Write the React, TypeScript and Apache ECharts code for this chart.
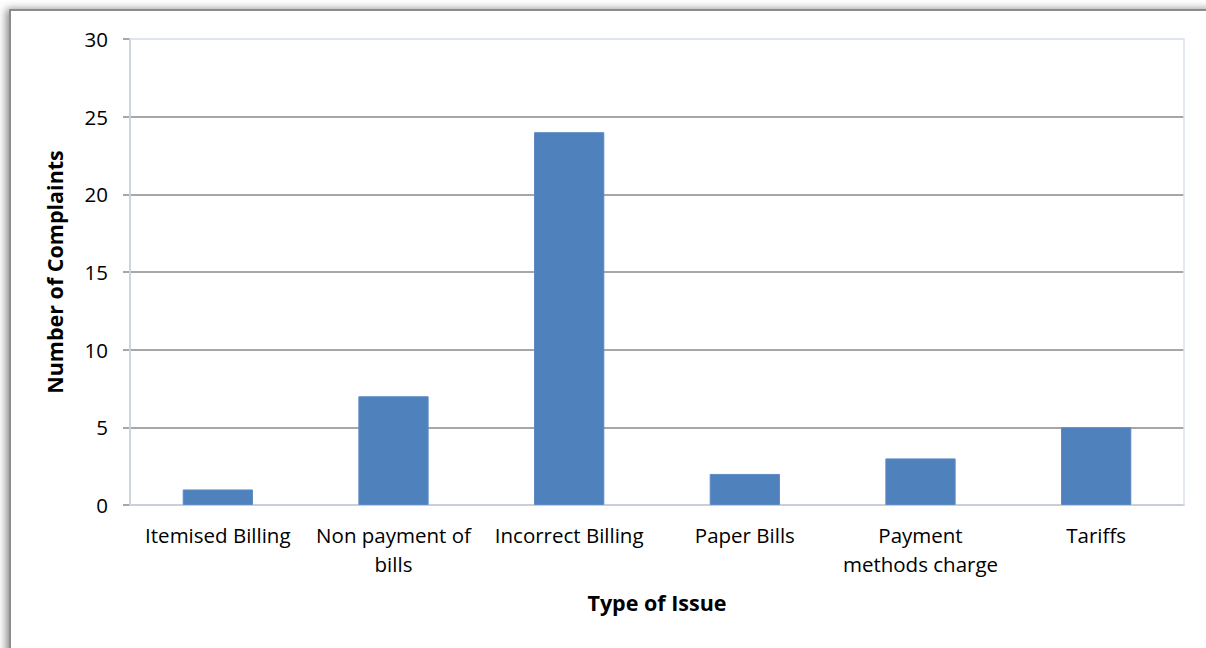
import React, { useEffect, useRef } from "react";
import * as echarts from "echarts";

const categories = [
  "Itemised Billing",
  "Non payment of\nbills",
  "Incorrect Billing",
  "Paper Bills",
  "Payment\nmethods charge",
  "Tariffs",
];
const complaints = [1, 7, 24, 2, 3, 5];
const yTicks = [0, 5, 10, 15, 20, 25, 30];

const FONT = "'Open Sans', sans-serif";

export default function App() {
  const ref = useRef<HTMLDivElement>(null);
  useEffect(() => {
    if (!ref.current) return;
    const chart = echarts.init(ref.current, undefined, { renderer: "svg" });
    const gridColors = yTicks.map((_, i) => (i === yTicks.length - 1 ? "#dbe3ef" : "#8a8a8a"));
    chart.setOption({
      animation: false,
      backgroundColor: "#fff",
      graphic: [
        {
          type: "rect",
          z: -100,
          silent: true,
          shape: { x: 10, y: 10, width: 1400, height: 900 },
          style: {
            fill: "#fff",
            stroke: "#8c8c8c",
            lineWidth: 2,
            shadowBlur: 8,
            shadowOffsetX: -3,
            shadowOffsetY: 0,
            shadowColor: "rgba(0,0,0,0.45)",
          },
        },
      ],
      grid: {
        left: 130,
        right: 22,
        top: 39,
        bottom: 143,
        show: true,
        borderColor: "#dbe3ef",
        borderWidth: 1.5,
        backgroundColor: "transparent",
        z: 1,
      },
      xAxis: {
        type: "category",
        data: categories,
        name: "Type of Issue",
        nameLocation: "middle",
        nameGap: 86,
        nameTextStyle: { fontFamily: FONT, fontSize: 21.5, fontWeight: "bold", color: "#000" },
        axisLine: { show: true, lineStyle: { color: "#8a8a8a", width: 1.5 } },
        axisTick: { show: false },
        axisLabel: {
          interval: 0,
          margin: 15,
          fontFamily: FONT,
          fontSize: 20.5,
          lineHeight: 29,
          color: "#000",
        },
      },
      yAxis: {
        type: "value",
        min: 0,
        max: 30,
        interval: 5,
        name: "Number of Complaints",
        nameLocation: "middle",
        nameGap: 65,
        nameTextStyle: { fontFamily: FONT, fontSize: 21.5, fontWeight: "bold", color: "#000" },
        axisLine: { show: true, lineStyle: { color: "#8a8a8a", width: 1.5 } },
        axisTick: { show: true, length: 7, lineStyle: { color: "#8a8a8a", width: 1.5 } },
        axisLabel: { margin: 22, fontFamily: FONT, fontSize: 20.5, color: "#000" },
        splitLine: { show: true, lineStyle: { color: gridColors, width: 1.5 } },
      },
      series: [
        {
          type: "bar",
          data: complaints,
          barWidth: "40%",
          itemStyle: { color: "#4f81bd", borderColor: "#5b8bc4", borderWidth: 1 },
        },
      ],
    });
    return () => chart.dispose();
  }, []);
  return (
    <div
      ref={ref}
      style={{ position: "absolute", left: 0, top: 0, width: 1206, height: 648 }}
    />
  );
}
